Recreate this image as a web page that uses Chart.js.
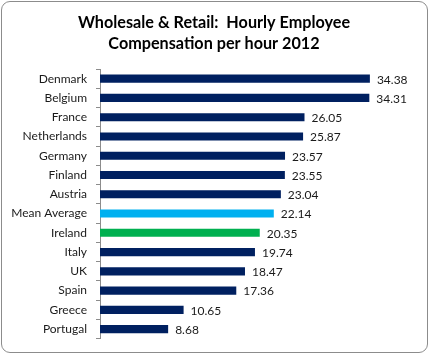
<!DOCTYPE html>
<html>
<head>
<meta charset="utf-8">
<script src="https://cdn.jsdelivr.net/npm/chart.js@4.4.0/dist/chart.umd.min.js"></script>
<style>
  html, body { margin: 0; padding: 0; background: #fff; }
  #wrap { position: relative; width: 430px; height: 355px; }
  #frame { position: absolute; left: 1px; top: 1px; width: 425px; height: 350px;
           border: 1px solid #8c8c8c; border-radius: 9px; pointer-events: none; }
  canvas { position: absolute; left: 0; top: 0; }
</style>
</head>
<body>
<div id="wrap">
  <canvas id="c" width="430" height="355"></canvas>
  <div id="frame"></div>
</div>
<script>
const categories = ["Denmark", "Belgium", "France", "Netherlands", "Germany", "Finland", "Austria",
  "Mean Average", "Ireland", "Italy", "UK", "Spain", "Greece", "Portugal"];
const values = [34.38, 34.31, 26.05, 25.87, 23.57, 23.55, 23.04, 22.14, 20.35, 19.74, 18.47, 17.36, 10.65, 8.68];
const titleLines = ["Wholesale & Retail:  Hourly Employee", "Compensation per hour 2012"];

const NAVY = "#002060", LIGHT = "#00B0F0", GREEN = "#00B050";
const barColors = categories.map(c => c === "Mean Average" ? LIGHT : (c === "Ireland" ? GREEN : NAVY));
const FONT = "Lato, 'Open Sans', sans-serif";

const titlePlugin = {
  id: "customTitle",
  afterDraw(chart) {
    const ctx = chart.ctx;
    ctx.save();
    ctx.font = "bold 16.2px " + FONT;
    ctx.fillStyle = "#000";
    ctx.textAlign = "center";
    ctx.textBaseline = "middle";
    ctx.fillText(titleLines[0], 214, 23);
    ctx.fillText(titleLines[1], 214, 44);
    ctx.restore();
  }
};

const valueLabels = {
  id: "valueLabels",
  afterDatasetsDraw(chart) {
    const ctx = chart.ctx;
    const meta = chart.getDatasetMeta(0);
    ctx.save();
    ctx.font = "12px " + FONT;
    ctx.fillStyle = "#1a1a1a";
    ctx.textAlign = "left";
    ctx.textBaseline = "middle";
    meta.data.forEach((bar, i) => {
      ctx.fillText(values[i].toFixed(2), bar.x + 7, bar.y + 1);
    });
    ctx.restore();
  }
};

new Chart(document.getElementById("c"), {
  type: "bar",
  data: {
    labels: categories,
    datasets: [{
      data: values,
      backgroundColor: barColors,
      borderWidth: 0,
      categoryPercentage: 1,
      barPercentage: 0.42
    }]
  },
  options: {
    indexAxis: "y",
    responsive: false,
    animation: false,
    layout: { padding: { left: 0, right: 16, top: 69, bottom: 16 } },
    plugins: { legend: { display: false }, tooltip: { enabled: false }, title: { display: false } },
    scales: {
      x: { display: false, min: 0, max: 40 },
      y: {
        afterFit(scale) { scale.width = 100; },
        border: { display: true, color: "#8c8c8c", width: 1 },
        grid: { drawOnChartArea: false, drawTicks: true, tickLength: 4, color: "#8c8c8c", offset: true },
        ticks: { color: "#1a1a1a", font: { family: FONT, size: 12 }, padding: 9 }
      }
    }
  },
  plugins: [titlePlugin, valueLabels]
});
</script>
</body>
</html>
